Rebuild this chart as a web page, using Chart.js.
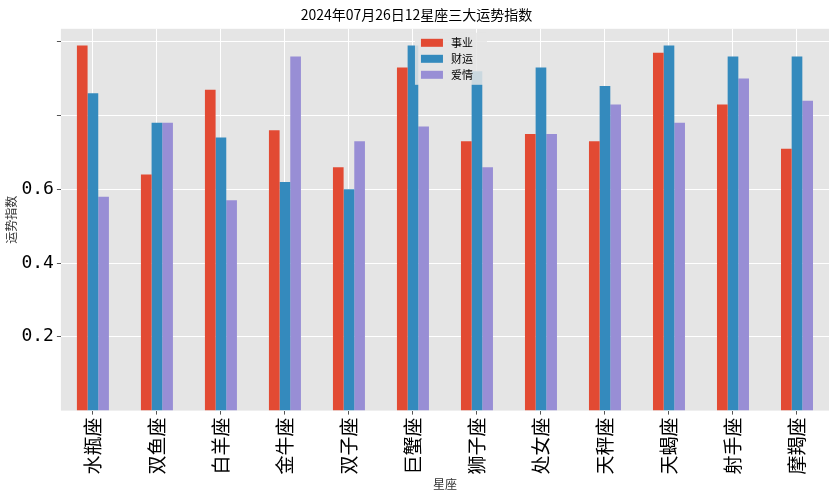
<!DOCTYPE html>
<html><head><meta charset="utf-8">
<script src="https://cdn.jsdelivr.net/npm/chart.js@4"></script>
<style>body{margin:0;background:#fff}#wrap{width:837px;height:500px}</style>
</head><body><div id="wrap"><canvas id="c"></canvas></div>
<script>
const xingzuo = ["水瓶座","双鱼座","白羊座","金牛座","双子座","巨蟹座","狮子座","处女座","天秤座","天蝎座","射手座","摩羯座"];
const shiye = [0.99,0.64,0.87,0.76,0.66,0.93,0.73,0.75,0.73,0.97,0.83,0.71];
const caiyun = [0.86,0.78,0.74,0.62,0.60,0.99,0.92,0.93,0.88,0.99,0.96,0.96];
const aiqing = [0.58,0.78,0.57,0.96,0.73,0.77,0.66,0.75,0.83,0.78,0.90,0.84];
const yTicks = [0.2,0.4,0.6,0.8,1.0];
const shownTicks = [0.2,0.4,0.6];

const font = "'Noto Sans CJK SC','DejaVu Sans',sans-serif";
const bg = {
  id:"bg",
  beforeDraw(ch){
    const a=ch.chartArea, g=ch.ctx;
    g.save(); g.fillStyle="#E5E5E5";
    g.fillRect(a.left,a.top,a.right-a.left,a.bottom-a.top); g.restore();
  },
  afterDraw(ch){
    // legend box inside the plot, top centre
    const g=ch.ctx, a=ch.chartArea;
    const x=(a.left+a.right)/2-30, y=a.top+4, w=72, h=52;
    g.save();
    g.fillStyle="rgba(229,229,229,0.85)";
    g.strokeStyle="#ccc";
    g.fillRect(x,y,w,h);
    g.font="11px "+font; g.textBaseline="middle"; g.fillStyle="#000";
    ch.data.datasets.forEach((d,i)=>{
      const yy=y+10+i*16;
      g.fillStyle=d.backgroundColor; g.fillRect(x+6,yy-4,22,8);
      g.fillStyle="#000"; g.fillText(d.label,x+36,yy);
    });
    g.restore();
  }
};

new Chart(document.getElementById("c"),{
  type:"bar",
  data:{
    labels:xingzuo,
    datasets:[
      {label:"事业",data:shiye,backgroundColor:"#E24A33"},
      {label:"财运",data:caiyun,backgroundColor:"#348ABD"},
      {label:"爱情",data:aiqing,backgroundColor:"#988ED5"}
    ]
  },
  options:{
    responsive:true,maintainAspectRatio:false,animation:false,
    layout:{padding:{left:4,right:8,top:2,bottom:8}},
    datasets:{bar:{categoryPercentage:0.5,barPercentage:1}},
    plugins:{
      title:{display:true,text:"2024年07月26日12星座三大运势指数",color:"#000",font:{family:font,size:14,weight:"normal"},padding:{top:4,bottom:6}},
      legend:{display:false},
      tooltip:{enabled:false}
    },
    scales:{
      x:{
        grid:{color:"#fff",lineWidth:1,offset:false,drawTicks:true,tickColor:"#555",tickLength:4},
        border:{display:false},
        ticks:{color:"#000",maxRotation:90,minRotation:90,font:{family:font,size:19}},
        title:{display:true,text:"星座",color:"#333",font:{family:font,size:12},padding:0}
      },
      y:{
        min:0,max:1.035,
        afterBuildTicks(ax){ax.ticks=yTicks.map(v=>({value:v}));},
        grid:{color:"#fff",lineWidth:1,tickColor:"#555",tickLength:4},
        border:{display:false},
        ticks:{color:"#000",font:{family:"'DejaVu Sans Mono',monospace",size:18},
          callback:v=>shownTicks.some(t=>Math.abs(t-v)<1e-6)?v.toFixed(1):""},
        title:{display:true,text:"运势指数",color:"#333",font:{family:font,size:12},padding:0}
      }
    }
  },
  plugins:[bg]
});
</script></body></html>
